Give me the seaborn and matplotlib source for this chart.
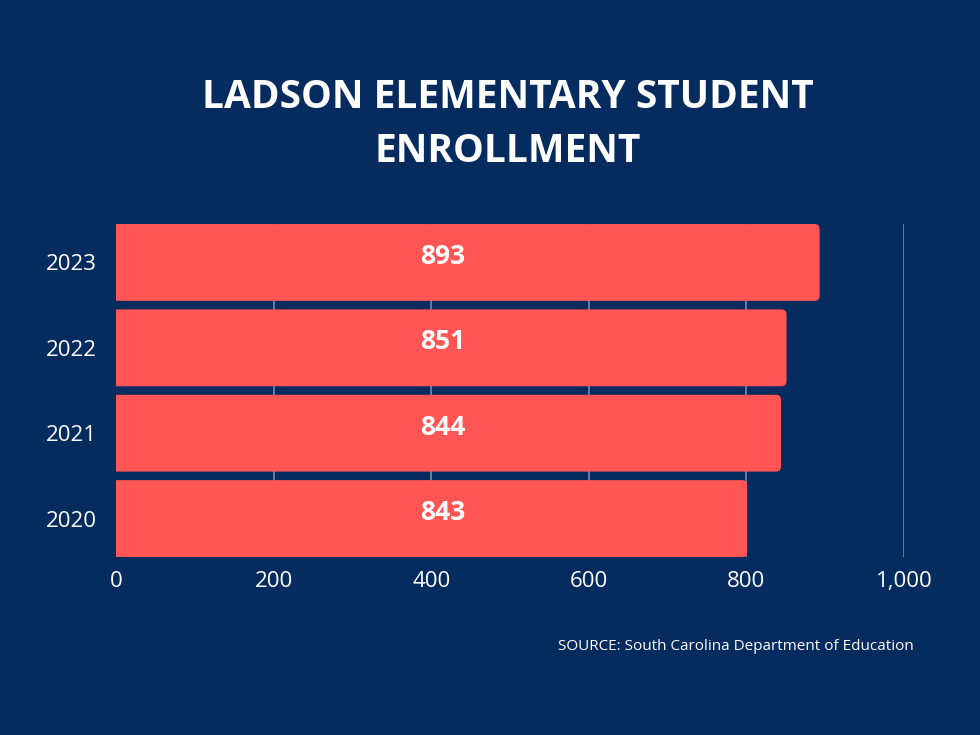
import pandas as pd
import matplotlib.pyplot as plt
from matplotlib.patches import FancyBboxPatch
import seaborn as sns

# values (the 2020 bar is drawn shorter than its label)
years = ["2023", "2022", "2021", "2020"]
bar_lengths = [893, 851, 844, 801]
bar_labels = ["893", "851", "844", "843"]
x_ticks = [0, 200, 400, 600, 800, 1000]
x_tick_labels = ["0", "200", "400", "600", "800", "1,000"]

bg = "#062b5e"
bar_color = "#ff5555"

sns.set_theme(style="white")
plt.rcParams["font.family"] = ["Open Sans", "DejaVu Sans"]

df = pd.DataFrame({"year": years, "enrollment": bar_lengths})

fig = plt.figure(figsize=(9.8, 7.35), dpi=100, facecolor=bg)
ax = fig.add_axes([0.1184, 0.2422, 0.804, 0.453])
ax.set_facecolor(bg)

sns.barplot(data=df, x="enrollment", y="year", order=years, color=bar_color,
            saturation=1, width=0.9, linewidth=0, ax=ax, zorder=2)

ax.set_xlim(0, 1000)
ax.set_ylim(len(years) - 0.55, -0.45)

# rounded right-hand corners: swap each rectangle for a rounded box
# (starts left of 0 so the left corners are clipped away)
x_per_px = 1000 / (0.804 * 980)
y_per_px = 3.9 / (0.453 * 735)
for p in list(ax.patches):
    x0, y0 = p.get_x(), p.get_y()
    w, h = p.get_width(), p.get_height()
    p.remove()
    box = FancyBboxPatch((x0 - 10, y0), w + 10, h,
                         boxstyle=f"round,pad=0,rounding_size={5 * x_per_px}",
                         mutation_aspect=y_per_px / x_per_px,
                         facecolor=bar_color, edgecolor="none", zorder=2)
    ax.add_patch(box)

ax.set_xticks(x_ticks)
ax.set_xticklabels(x_tick_labels)
for t in x_ticks[1:]:
    ax.axvline(t, color="#8194b5", lw=1.1, zorder=1)

ax.tick_params(axis="both", length=0, colors="white", labelsize=16)
ax.tick_params(axis="x", pad=10)
ax.tick_params(axis="y", pad=14)
ax.set_xlabel("")
ax.set_ylabel("")
for s in ax.spines.values():
    s.set_visible(False)

for i, lab in enumerate(bar_labels):
    ax.text(415, i - 0.07, lab, color="white", fontsize=19, fontweight="bold",
            ha="center", va="center", zorder=3)

fig.text(0.518, 0.831, "LADSON ELEMENTARY STUDENT\nENROLLMENT", color="white",
         fontsize=28, fontweight="bold", ha="center", va="center",
         linespacing=1.5)
fig.text(0.932, 0.121, "SOURCE: South Carolina Department of Education",
         color="white", fontsize=11, ha="right", va="center")

fig.savefig("out.png", dpi=100, facecolor=bg)
